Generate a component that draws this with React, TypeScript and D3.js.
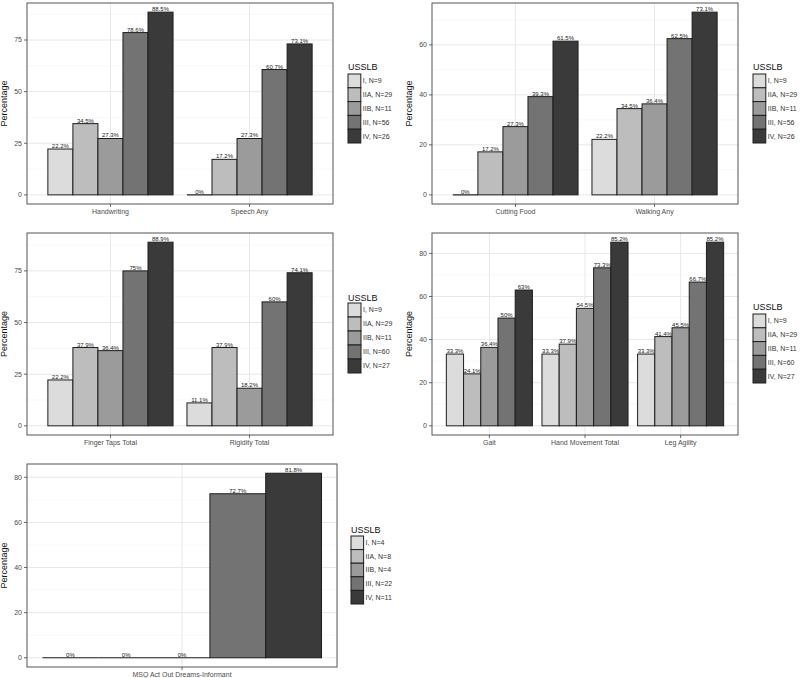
import React from "react";
import * as d3 from "d3";

// groups (USSLB stage) and their fills
const stages = ["I", "IIA", "IIB", "III", "IV"];
const stageFills = ["#dcdcdc", "#bdbdbd", "#9b9b9b", "#737373", "#3a3a3a"];

// panel 1
const p1Categories = ["Handwriting", "Speech Any"];
const p1Values = [
  [22.2, 34.5, 27.3, 78.6, 88.5],
  [0, 17.2, 27.3, 60.7, 73.1],
];
const p1Legend = ["I, N=9", "IIA, N=29", "IIB, N=11", "III, N=56", "IV, N=26"];
const p1Ticks = [0, 25, 50, 75];

// panel 2
const p2Categories = ["Cutting Food", "Walking Any"];
const p2Values = [
  [0, 17.2, 27.3, 39.3, 61.5],
  [22.2, 34.5, 36.4, 62.5, 73.1],
];
const p2Legend = ["I, N=9", "IIA, N=29", "IIB, N=11", "III, N=56", "IV, N=26"];
const p2Ticks = [0, 20, 40, 60];

// panel 3
const p3Categories = ["Finger Taps Total", "Rigidity Total"];
const p3Values = [
  [22.2, 37.9, 36.4, 75, 88.9],
  [11.1, 37.9, 18.2, 60, 74.1],
];
const p3Legend = ["I, N=9", "IIA, N=29", "IIB, N=11", "III, N=60", "IV, N=27"];
const p3Ticks = [0, 25, 50, 75];

// panel 4
const p4Categories = ["Gait", "Hand Movement Total", "Leg Agility"];
const p4Values = [
  [33.3, 24.1, 36.4, 50, 63],
  [33.3, 37.9, 54.5, 73.3, 85.2],
  [33.3, 41.4, 45.5, 66.7, 85.2],
];
const p4Legend = ["I, N=9", "IIA, N=29", "IIB, N=11", "III, N=60", "IV, N=27"];
const p4Ticks = [0, 20, 40, 60, 80];

// panel 5
const p5Categories = ["MSQ Act Out Dreams-Informant"];
const p5Values = [[0, 0, 0, 72.7, 81.8]];
const p5Legend = ["I, N=4", "IIA, N=8", "IIB, N=4", "III, N=22", "IV, N=11"];
const p5Ticks = [0, 20, 40, 60, 80];

const FONT = "'Liberation Sans', Arial, sans-serif";

interface PanelProps {
  categories: string[];
  values: number[][];
  legend: string[];
  ticks: number[];
  box: { left: number; right: number; top: number; bottom: number };
  padOuter: number;
  legendPos: { x: number; titleY: number; keysTop: number; keyH: number };
}

function Panel({ categories, values, legend, ticks, box, padOuter, legendPos }: PanelProps) {
  const maxV = d3.max(values.flat()) as number;
  const y = d3
    .scaleLinear()
    .domain([-0.05 * maxV, maxV * 1.05])
    .range([box.bottom, box.top]);

  const x = d3
    .scaleBand<string>()
    .domain(categories)
    .range([box.left, box.right])
    .paddingInner(0.1)
    .paddingOuter(padOuter);

  const xi = d3
    .scaleBand<string>()
    .domain(stages)
    .range([0, x.bandwidth()])
    .padding(0);

  const step = ticks[1] - ticks[0];
  const minor: number[] = [];
  ticks.forEach(t => {
    const m = t + step / 2;
    if (m <= y.domain()[1]) minor.push(m);
  });

  const midY = (box.top + box.bottom) / 2;

  return (
    <g>
      {/* grid */}
      {minor.map(m => (
        <line key={"mn" + m} x1={box.left} x2={box.right} y1={y(m)} y2={y(m)} stroke="#f3f3f3" strokeWidth={0.6} />
      ))}
      {ticks.map(t => (
        <line key={"mj" + t} x1={box.left} x2={box.right} y1={y(t)} y2={y(t)} stroke="#e8e8e8" strokeWidth={1} />
      ))}
      {categories.map(c => {
        const cx = (x(c) as number) + x.bandwidth() / 2;
        return <line key={"vg" + c} x1={cx} x2={cx} y1={box.top} y2={box.bottom} stroke="#e8e8e8" strokeWidth={1} />;
      })}

      {/* bars */}
      {categories.map((c, ci) =>
        values[ci].map((v, si) => {
          const bx = (x(c) as number) + (xi(stages[si]) as number);
          const by = y(Math.max(v, 0));
          return (
            <g key={c + si}>
              {v > 0 ? (
                <rect
                  x={bx}
                  y={by}
                  width={xi.bandwidth()}
                  height={y(0) - by}
                  fill={stageFills[si]}
                  stroke="#1e1e1e"
                  strokeWidth={1}
                />
              ) : (
                <line x1={bx} x2={bx + xi.bandwidth()} y1={y(0)} y2={y(0)} stroke="#1e1e1e" strokeWidth={1.2} />
              )}
              <text
                x={bx + xi.bandwidth() / 2}
                y={by - 1}
                textAnchor="middle"
                fontSize={6}
                fontFamily={FONT}
                fill="#222"
              >
                {v + "%"}
              </text>
            </g>
          );
        })
      )}

      {/* panel border */}
      <rect
        x={box.left}
        y={box.top}
        width={box.right - box.left}
        height={box.bottom - box.top}
        fill="none"
        stroke="#555"
        strokeWidth={1}
      />

      {/* y axis */}
      {ticks.map(t => (
        <g key={"yt" + t}>
          <line x1={box.left - 3} x2={box.left} y1={y(t)} y2={y(t)} stroke="#444" strokeWidth={0.8} />
          <text
            x={box.left - 5}
            y={y(t)}
            dy="0.35em"
            textAnchor="end"
            fontSize={7}
            fontFamily={FONT}
            fill="#4d4d4d"
          >
            {t}
          </text>
        </g>
      ))}
      <text
        transform={`translate(${box.left - 20},${midY}) rotate(-90)`}
        textAnchor="middle"
        fontSize={9}
        fontFamily={FONT}
        fill="#111"
      >
        Percentage
      </text>

      {/* x axis */}
      {categories.map(c => {
        const cx = (x(c) as number) + x.bandwidth() / 2;
        return (
          <g key={"xt" + c}>
            <line x1={cx} x2={cx} y1={box.bottom} y2={box.bottom + 3} stroke="#444" strokeWidth={0.8} />
            <text
              x={cx}
              y={box.bottom + 10}
              textAnchor="middle"
              fontSize={7}
              fontFamily={FONT}
              fill="#4d4d4d"
            >
              {c}
            </text>
          </g>
        );
      })}

      {/* legend */}
      <text x={legendPos.x} y={legendPos.titleY} dy="0.35em" fontSize={9} fontFamily={FONT} fill="#111">
        USSLB
      </text>
      {legend.map((l, i) => {
        const ky = legendPos.keysTop + i * legendPos.keyH;
        return (
          <g key={"lg" + i}>
            <rect
              x={legendPos.x}
              y={ky}
              width={legendPos.keyH - 1}
              height={legendPos.keyH}
              fill={stageFills[i]}
              stroke="#1e1e1e"
              strokeWidth={1}
            />
            <text
              x={legendPos.x + legendPos.keyH + 1}
              y={ky + legendPos.keyH / 2}
              dy="0.35em"
              fontSize={7}
              fontFamily={FONT}
              fill="#333"
            >
              {l}
            </text>
          </g>
        );
      })}
    </g>
  );
}

export default function App() {
  return (
    <svg
      width={800}
      height={678}
      style={{ position: "absolute", left: 0, top: 0, background: "#fff" }}
    >
      <Panel
        categories={p1Categories}
        values={p1Values}
        legend={p1Legend}
        ticks={p1Ticks}
        box={{ left: 27, right: 333, top: 3, bottom: 204 }}
        padOuter={0.15}
        legendPos={{ x: 348, titleY: 67, keysTop: 74, keyH: 13.8 }}
      />
      <Panel
        categories={p2Categories}
        values={p2Values}
        legend={p2Legend}
        ticks={p2Ticks}
        box={{ left: 432, right: 738, top: 3, bottom: 204 }}
        padOuter={0.15}
        legendPos={{ x: 753, titleY: 67, keysTop: 74, keyH: 13.8 }}
      />
      <Panel
        categories={p3Categories}
        values={p3Values}
        legend={p3Legend}
        ticks={p3Ticks}
        box={{ left: 27, right: 333, top: 233, bottom: 435 }}
        padOuter={0.15}
        legendPos={{ x: 348, titleY: 298, keysTop: 303, keyH: 14 }}
      />
      <Panel
        categories={p4Categories}
        values={p4Values}
        legend={p4Legend}
        ticks={p4Ticks}
        box={{ left: 432, right: 738, top: 233, bottom: 435 }}
        padOuter={0.15}
        legendPos={{ x: 753, titleY: 307, keysTop: 314, keyH: 13.8 }}
      />
      <Panel
        categories={p5Categories}
        values={p5Values}
        legend={p5Legend}
        ticks={p5Ticks}
        box={{ left: 27, right: 337, top: 464, bottom: 667 }}
        padOuter={0.05}
        legendPos={{ x: 351, titleY: 530, keysTop: 536, keyH: 13.6 }}
      />
    </svg>
  );
}
